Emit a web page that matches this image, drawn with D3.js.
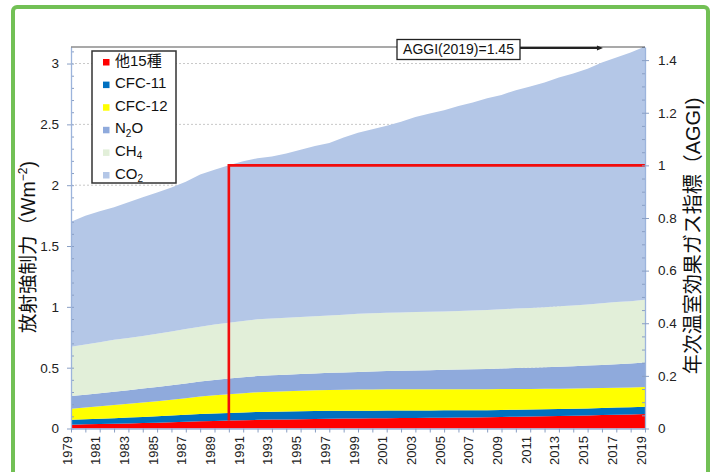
<!DOCTYPE html>
<html>
<head>
<meta charset="utf-8">
<script src="https://cdn.jsdelivr.net/npm/d3@7"></script>
<style>
  html, body { margin: 0; padding: 0; background: #fff; }
  svg { display: block; font-family: "Liberation Sans", Arial, "Noto Sans CJK JP", sans-serif; }
</style>
</head>
<body>
<svg id="chart" width="716" height="472"></svg>
<script>
// Radiative forcing by greenhouse gas, W m^-2, 1979-2019
const years = [1979,1980,1981,1982,1983,1984,1985,1986,1987,1988,1989,1990,1991,1992,1993,1994,1995,1996,1997,1998,1999,2000,2001,2002,2003,2004,2005,2006,2007,2008,2009,2010,2011,2012,2013,2014,2015,2016,2017,2018,2019];
const minor15 = [0.031,0.034,0.036,0.039,0.042,0.045,0.048,0.051,0.055,0.059,0.062,0.065,0.068,0.071,0.073,0.075,0.077,0.079,0.081,0.082,0.083,0.084,0.085,0.086,0.087,0.088,0.089,0.090,0.091,0.093,0.095,0.097,0.099,0.101,0.103,0.105,0.107,0.110,0.113,0.116,0.119];
const cfc11 = [0.040,0.042,0.044,0.046,0.048,0.050,0.053,0.056,0.059,0.061,0.062,0.063,0.064,0.065,0.065,0.065,0.065,0.064,0.064,0.063,0.063,0.062,0.062,0.061,0.061,0.060,0.060,0.059,0.059,0.058,0.058,0.058,0.057,0.057,0.057,0.057,0.058,0.058,0.059,0.059,0.060];
const cfc12 = [0.092,0.097,0.102,0.108,0.113,0.118,0.123,0.129,0.135,0.143,0.149,0.154,0.158,0.162,0.165,0.167,0.169,0.171,0.172,0.173,0.174,0.175,0.175,0.175,0.175,0.175,0.174,0.174,0.173,0.172,0.171,0.170,0.169,0.168,0.167,0.166,0.165,0.164,0.163,0.162,0.162];
const n2o = [0.104,0.105,0.107,0.110,0.112,0.115,0.117,0.120,0.121,0.123,0.126,0.129,0.131,0.133,0.134,0.135,0.137,0.139,0.141,0.143,0.145,0.148,0.150,0.152,0.154,0.156,0.159,0.162,0.164,0.167,0.169,0.172,0.175,0.178,0.181,0.184,0.187,0.190,0.194,0.197,0.201];
const ch4 = [0.406,0.413,0.420,0.426,0.429,0.432,0.437,0.442,0.447,0.451,0.455,0.459,0.463,0.467,0.467,0.468,0.469,0.470,0.471,0.475,0.479,0.479,0.479,0.479,0.480,0.480,0.480,0.480,0.482,0.485,0.487,0.489,0.491,0.493,0.496,0.499,0.503,0.507,0.510,0.513,0.517];
const co2 = [1.027,1.058,1.077,1.089,1.115,1.140,1.162,1.184,1.211,1.250,1.274,1.293,1.313,1.324,1.332,1.350,1.375,1.400,1.418,1.456,1.487,1.512,1.537,1.568,1.603,1.630,1.654,1.685,1.711,1.740,1.762,1.795,1.821,1.848,1.882,1.907,1.937,1.980,2.010,2.043,2.081];

// stacking order, bottom to top
const seriesKeys = ["minor15", "cfc11", "cfc12", "n2o", "ch4", "co2"];
const seriesColors = ["#ff0000", "#0070c0", "#ffff00", "#8faadc", "#e2efd9", "#b4c7e7"];
// legend rows, top to bottom: [main text, subscript, trailing text]
const legendLabels = [["他15種", "", ""], ["CFC-11", "", ""], ["CFC-12", "", ""], ["N", "2", "O"], ["CH", "4", ""], ["CO", "2", ""]];
const legendColors = ["#ff0000", "#0070c0", "#ffff00", "#8faadc", "#e2efd9", "#b4c7e7"];

const yearTickLabels = [1979,1981,1983,1985,1987,1989,1991,1993,1995,1997,1999,2001,2003,2005,2007,2009,2011,2013,2015,2017,2019];
const leftTicks = [0, 0.5, 1, 1.5, 2, 2.5, 3];
const rightTicks = [0, 0.2, 0.4, 0.6, 0.8, 1, 1.2, 1.4];

// AGGI reference: 1990 = 1, latest value 1.45 (2019)
const aggiBaseYear = 1990;
const aggiStepYears = [1990, 1990, 2019];
const aggiStepValues = [0.03, 1, 1];
const aggiLatestText = "AGGI(2019)=1.45";
const aggiLatestValue = 1.45;
const aggiArrowYear = 2016;

const leftMax = 3.136;

// ---------- build table ----------
const cols = { minor15, cfc11, cfc12, n2o, ch4, co2 };
const rows = years.map((yr, i) => {
  const r = { year: yr };
  seriesKeys.forEach(k => r[k] = cols[k][i]);
  return r;
});
const baseRow = rows.find(r => r.year === aggiBaseYear);
const baseTotal = d3.sum(seriesKeys, k => baseRow[k]);

const svg = d3.select("#chart");
const plot = { left: 71, right: 645, top: 47, bottom: 428.5 };

const x = d3.scaleLinear().domain([years[0], years[years.length - 1]]).range([plot.left, plot.right]);
const yL = d3.scaleLinear().domain([0, leftMax]).range([plot.bottom, plot.top]);
const yR = d3.scaleLinear().domain([0, leftMax / baseTotal]).range([plot.bottom, plot.top]);

// ---------- grid ----------
svg.append("g").selectAll("line").data(leftTicks.filter(d => d > 0)).join("line")
  .attr("x1", plot.left).attr("x2", plot.right)
  .attr("y1", d => yL(d)).attr("y2", d => yL(d))
  .attr("stroke", "#c8c8c8").attr("stroke-width", 1).attr("stroke-dasharray", "2,2");

// ---------- stacked areas ----------
const stack = d3.stack().keys(seriesKeys);
const layers = stack(rows);
const area = d3.area()
  .x(d => x(d.data.year))
  .y0(d => yL(d[0]))
  .y1(d => yL(d[1]));
svg.append("g").selectAll("path").data(layers).join("path")
  .attr("d", area)
  .attr("fill", (d, i) => seriesColors[i]);

// ---------- AGGI step line ----------
const aggiLine = d3.line().x(d => x(d[0])).y(d => yR(d[1]));
svg.append("path")
  .datum(aggiStepYears.map((yr, i) => [yr, aggiStepValues[i]]))
  .attr("d", aggiLine)
  .attr("fill", "none").attr("stroke", "#f20d0d").attr("stroke-width", 2.6);

// ---------- axes ----------
const axisColor = "#9cb4dc";
function styleAxis(g) {
  g.selectAll(".domain").attr("stroke", axisColor).attr("stroke-width", 1.3);
  g.selectAll(".tick line").attr("stroke", "#8a9fc4");
  g.selectAll("text").attr("fill", "#222").attr("font-size", "13.5px")
    .attr("font-family", "'Liberation Sans', Arial, sans-serif");
}

// left minor ticks
svg.append("g").attr("transform", `translate(${plot.left},0)`)
  .call(d3.axisLeft(yL).tickValues(d3.range(0, 3.11, 0.1)).tickSize(-3).tickFormat(""))
  .call(g => g.select(".domain").remove())
  .call(g => g.selectAll(".tick line").attr("stroke", "#8a9fc4"));
// left major
svg.append("g").attr("transform", `translate(${plot.left},0)`)
  .call(d3.axisLeft(yL).tickValues(leftTicks).tickSize(4).tickPadding(8).tickFormat(d3.format("")).tickSizeOuter(0))
  .call(styleAxis);

// right minor ticks
svg.append("g").attr("transform", `translate(${plot.right},0)`)
  .call(d3.axisRight(yR).tickValues(d3.range(0, 1.451, 0.05)).tickSize(-3).tickFormat(""))
  .call(g => g.select(".domain").remove())
  .call(g => g.selectAll(".tick line").attr("stroke", "#8a9fc4"));
// right major
svg.append("g").attr("transform", `translate(${plot.right},0)`)
  .call(d3.axisRight(yR).tickValues(rightTicks).tickSize(4).tickPadding(9).tickFormat(d3.format("")).tickSizeOuter(0))
  .call(styleAxis);

// bottom axis: tick every year, labels every other year, rotated
svg.append("g").attr("transform", `translate(0,${plot.bottom})`)
  .call(d3.axisBottom(x).tickValues(years).tickSize(4).tickFormat("").tickSizeOuter(0))
  .call(styleAxis);
svg.append("g").selectAll("text").data(yearTickLabels).join("text")
  .attr("transform", d => `translate(${x(d) + 0.5},${plot.bottom + 7.5}) rotate(-90)`)
  .attr("text-anchor", "end")
  .attr("font-size", "13px")
  .attr("fill", "#222")
  .text(d => d);

// top frame line
svg.append("line")
  .attr("x1", plot.left).attr("x2", plot.right)
  .attr("y1", plot.top).attr("y2", plot.top)
  .attr("stroke", "#555").attr("stroke-width", 1.2);

// ---------- legend ----------
const legend = svg.append("g");
legend.append("rect")
  .attr("x", 92).attr("y", 51).attr("width", 84).attr("height", 132)
  .attr("fill", "#fff").attr("stroke", "#333").attr("stroke-width", 1.5);
legendLabels.forEach((lab, i) => {
  const base = 65.5 + i * 22.6;
  legend.append("rect")
    .attr("x", 103).attr("y", base - 6.5).attr("width", 6.5).attr("height", 6.5)
    .attr("fill", legendColors[i]);
  const t = legend.append("text").attr("x", 115).attr("y", base)
    .attr("font-size", "15px").attr("fill", "#111")
    .attr("font-family", "'Liberation Sans', Arial, 'Noto Sans CJK JP', sans-serif");
  t.append("tspan").text(lab[0]);
  if (lab[1]) {
    t.append("tspan").attr("font-size", "10px").attr("dy", 3.5).text(lab[1]);
    if (lab[2]) t.append("tspan").attr("dy", -3.5).text(lab[2]);
  }
});

// ---------- AGGI annotation ----------
const ann = svg.append("g");
const arrowY = yR(aggiLatestValue) + 1;
ann.append("line")
  .attr("x1", 520).attr("x2", x(aggiArrowYear) - 4)
  .attr("y1", arrowY).attr("y2", arrowY)
  .attr("stroke", "#222").attr("stroke-width", 2);
ann.append("path")
  .attr("d", `M${x(aggiArrowYear) - 5},${arrowY - 2.5} L${x(aggiArrowYear) + 1},${arrowY} L${x(aggiArrowYear) - 5},${arrowY + 2.5} Z`)
  .attr("fill", "#222");
ann.append("rect")
  .attr("x", 397).attr("y", 39.5).attr("width", 123).attr("height", 20)
  .attr("fill", "#fff").attr("stroke", "#222").attr("stroke-width", 1.3);
ann.append("text")
  .attr("x", 458.5).attr("y", 54.3)
  .attr("text-anchor", "middle").attr("font-size", "14px").attr("fill", "#111")
  .text(aggiLatestText);

// ---------- axis titles ----------
const latin = "'Liberation Sans', Arial, sans-serif";
const leftTitle = svg.append("text")
  .attr("transform", "translate(35,247) rotate(-90)")
  .attr("text-anchor", "middle").attr("font-size", "19.5px").attr("fill", "#111")
  .attr("font-family", "'Noto Sans CJK JP', sans-serif");
leftTitle.append("tspan").text("放射強制力（");
leftTitle.append("tspan").attr("font-family", latin).text("Wm");
leftTitle.append("tspan").attr("font-family", latin)
  .attr("font-size", "12px").attr("dy", -8).text("−2");
leftTitle.append("tspan").attr("font-family", latin).attr("dy", 8).text(")");

const rightTitle = svg.append("text")
  .attr("transform", "translate(700,236) rotate(-90)")
  .attr("text-anchor", "middle").attr("font-size", "20px").attr("fill", "#111")
  .attr("font-family", "'Noto Sans CJK JP', sans-serif");
rightTitle.append("tspan").text("年次温室効果ガス指標（");
rightTitle.append("tspan").attr("font-family", latin).text("AGGI)");

// ---------- outer frame ----------
svg.append("rect")
  .attr("x", 13).attr("y", 7).attr("width", 695).attr("height", 490).attr("rx", 4)
  .attr("fill", "none").attr("stroke", "#72c055").attr("stroke-width", 4);
</script>
</body>
</html>
